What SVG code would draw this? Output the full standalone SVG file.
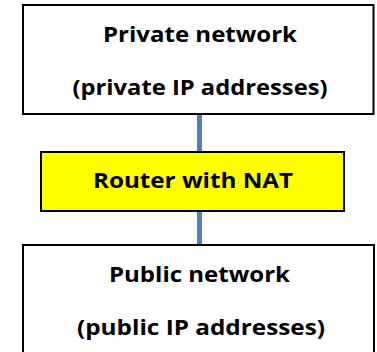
<svg xmlns="http://www.w3.org/2000/svg" width="377" height="352" viewBox="0 0 377 352">
<style>
.box{fill:#ffffff;stroke:#000000;stroke-width:2}
.router{fill:#ffff00;stroke:#000000;stroke-width:2}
.conn{stroke:#4f81bd;stroke-width:5;fill:none}
text{font-family:"Open Sans","Noto Sans","Liberation Sans",sans-serif;font-weight:bold;font-size:22px;fill:#000000;text-anchor:middle}
</style>
<rect width="377" height="352" fill="#ffffff"/>
<g id="connectors">
<line class="conn" x1="199.5" y1="114" x2="199.5" y2="152"/>
<line class="conn" x1="199.5" y1="211" x2="199.5" y2="245"/>
</g>
<g id="private">
<rect class="box" x="23" y="5" width="350.5" height="109"/>
<text x="200" y="42" textLength="194" lengthAdjust="spacingAndGlyphs">Private network</text>
<text x="200" y="95" textLength="255" lengthAdjust="spacingAndGlyphs">(private IP addresses)</text>
</g>
<g id="router">
<rect class="router" x="41" y="152" width="303" height="59"/>
<text x="193" y="188" textLength="200" lengthAdjust="spacingAndGlyphs">Router with NAT</text>
</g>
<g id="public">
<rect class="box" x="23" y="245" width="351" height="120"/>
<text x="199.5" y="282" textLength="181" lengthAdjust="spacingAndGlyphs">Public network</text>
<text x="201" y="335" textLength="248" lengthAdjust="spacingAndGlyphs">(public IP addresses)</text>
</g>
</svg>
